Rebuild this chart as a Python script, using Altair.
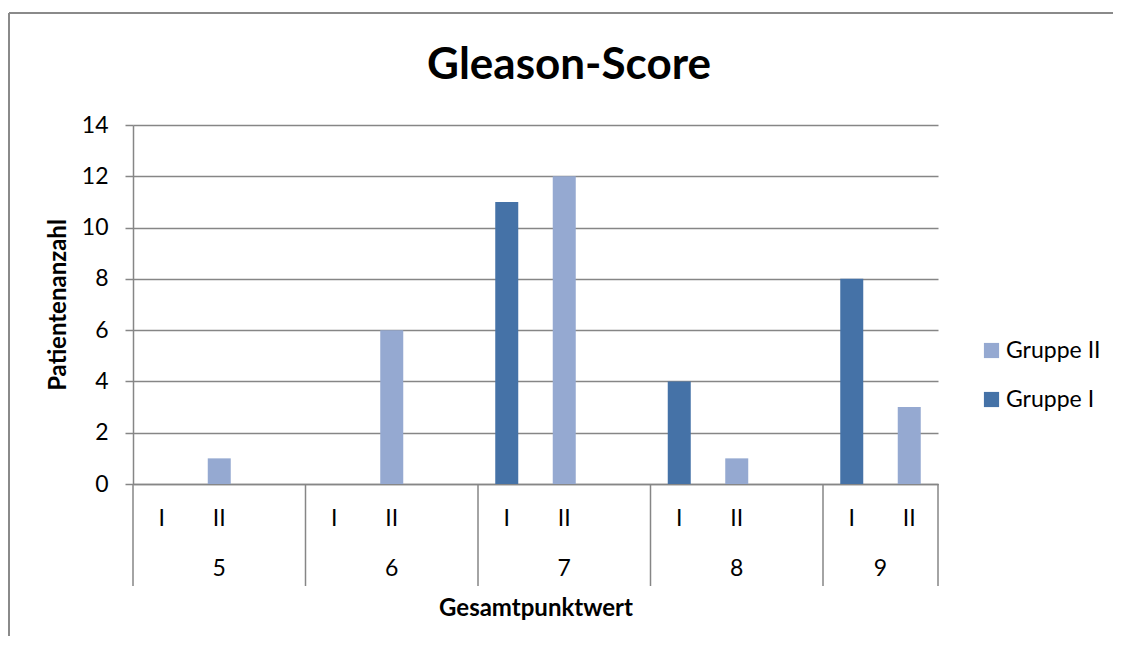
import altair as alt
import pandas as pd

# ---- data ----
scores = ["5", "6", "7", "8", "9"]
gruppe_I = [0, 0, 11, 4, 8]
gruppe_II = [1, 6, 12, 1, 3]
series_names = ["Gruppe II", "Gruppe I"]
y_ticks = [0, 2, 4, 6, 8, 10, 12, 14]
chart_title = "Gleason-Score"
x_title = "Gesamtpunktwert"
y_title = "Patientenanzahl"

FONT = "Lato"
GRID = "#868686"
DARK = "#4572A7"
LIGHT = "#95A9D1"
REG = 23
BOLD = 24

# ---- build tables ----
slots = []
bar_rows = []
group_bounds = [0]
group_centers = []
for i, s in enumerate(scores):
    start = len(slots)
    for lab, vals, ser in [("I", gruppe_I, "Gruppe I"), ("II", gruppe_II, "Gruppe II")]:
        key = f"{s}|{lab}"
        slots.append(key)
        bar_rows.append({"slot": key, "value": vals[i], "series": ser})
    if i < len(scores) - 1:
        slots.append(f"{s}|gap")
    group_bounds.append(len(slots))
    group_centers.append({"score": s, "center": (start + len(slots)) / 2})

n_slots = len(slots)
bars_df = pd.DataFrame(bar_rows)
sep_df = pd.DataFrame({"pos": group_bounds})
grp_df = pd.DataFrame(group_centers)

W, H = 805, 359

bars = alt.Chart(bars_df).mark_bar().encode(
    x=alt.X(
        "slot:N",
        sort=slots,
        scale=alt.Scale(domain=slots, paddingInner=0.6, paddingOuter=0.3),
        axis=alt.Axis(
            labelExpr="indexof(datum.value,'gap')>=0 ? '' : split(datum.value,'|')[1]",
            labelAngle=0,
            ticks=False,
            labelPadding=23,
            labelFontSize=REG,
            labelFont=FONT,
            labelColor="#000000",
            domainColor=GRID,
            domainWidth=1.5,
            title=x_title,
            titleFont=FONT,
            titleFontSize=BOLD,
            titleFontWeight="bold",
            titleColor="#000000",
            titleX=W / 2,
            titleY=124,
            titleBaseline="middle",
            titleAlign="center",
        ),
    ),
    y=alt.Y(
        "value:Q",
        scale=alt.Scale(domain=[0, 14], nice=False),
        axis=alt.Axis(
            values=y_ticks,
            tickSize=8,
            tickColor=GRID,
            tickWidth=1.5,
            domainColor=GRID,
            domainWidth=1.5,
            gridColor=GRID,
            gridWidth=1.5,
            labelPadding=17,
            labelFontSize=REG,
            labelFont=FONT,
            labelColor="#000000",
            title=y_title,
            titleFont=FONT,
            titleFontSize=BOLD,
            titleFontWeight="bold",
            titleColor="#000000",
            titleX=-75,
            titleY=H / 2,
            titleBaseline="middle",
            titleAlign="center",
        ),
    ),
    color=alt.Color(
        "series:N",
        scale=alt.Scale(domain=series_names, range=[LIGHT, DARK]),
        legend=alt.Legend(
            title=None,
            orient="none",
            legendX=847,
            legendY=214,
            symbolType="square",
            symbolSize=230,
            symbolStrokeWidth=0,
            labelFontSize=REG,
            labelFont=FONT,
            labelColor="#000000",
            rowPadding=25,
            labelOffset=3,
        ),
    ),
)

xq_scale = alt.Scale(domain=[0, n_slots], nice=False, zero=False)

seps = alt.Chart(sep_df).mark_rule(color=GRID, strokeWidth=1.5).encode(
    x=alt.X("pos:Q", scale=xq_scale, axis=None), y=alt.value(H), y2=alt.value(H + 102)
)

grp_text = alt.Chart(grp_df).mark_text(
    font=FONT, fontSize=REG, color="#000000", baseline="middle"
).encode(
    x=alt.X("center:Q", scale=xq_scale, axis=None),
    y=alt.value(H + 85),
    text="score:N",
)

title = alt.Chart(pd.DataFrame({"t": [chart_title]})).mark_text(
    font=FONT, fontSize=44, fontWeight="bold", color="#000000", baseline="middle"
).encode(text="t:N", x=alt.value(436), y=alt.value(-59))

frame_v = alt.Chart(pd.DataFrame({"d": [0]})).mark_rule(color="#8a8a8a", strokeWidth=2).encode(
    x=alt.value(-124), y=alt.value(-112), y2=alt.value(H + 160)
)
frame_h = alt.Chart(pd.DataFrame({"d": [0]})).mark_rule(color="#8a8a8a", strokeWidth=2).encode(
    x=alt.value(-124), x2=alt.value(W + 180), y=alt.value(-112)
)

chart = (
    alt.layer(bars, seps, grp_text, title, frame_v, frame_h)
    .resolve_scale(x="independent")
    .properties(
        width=W,
        height=H,
        autosize=alt.AutoSizeParams(type="none"),
        padding={"left": 125, "top": 117, "right": 175, "bottom": 152},
    )
    .configure_view(stroke=None)
)

chart.save("out.html", embed_options={"renderer": "svg", "actions": False})
